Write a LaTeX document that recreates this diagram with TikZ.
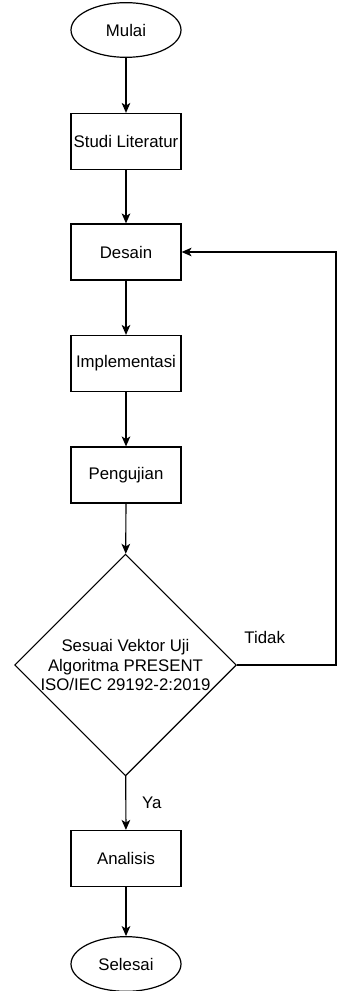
\documentclass[tikz,border=0pt]{standalone}
\usepackage{fontspec}
\setmainfont{Liberation Sans}
\usetikzlibrary{shapes.geometric,arrows.meta}
\begin{document}
\begin{tikzpicture}[x=0.75pt, y=-0.75pt, >={Stealth[length=7.5pt,width=6.5pt,inset=2pt]},
  every node/.style={font=\fontsize{12.6}{14.8}\selectfont},
  terminal/.style={draw, line width=0.9pt, ellipse, minimum width=82.5pt, minimum height=41pt, inner sep=1pt},
  process/.style={draw, line width=0.9pt, rectangle, minimum width=82.5pt, minimum height=42pt, inner sep=1pt},
  decision/.style={draw, line width=0.9pt, diamond, aspect=1, minimum width=164pt, minimum height=165pt, inner sep=0pt, align=center},
  relation/.style={inner sep=1pt}]
\useasboundingbox (0,0) rectangle (336,991);
\node[terminal] (n1) at (126,30) {Mulai};
\node[process] (n2) at (126,141.5) {Studi Literatur};
\node[process] (n3) at (126,252) {Desain};
\node[process] (n4) at (126,363.5) {Implementasi};
\node[process] (n5) at (126,475) {Pengujian};
\node[decision] (n6) at (125.5,665) {Sesuai Vektor Uji\\Algoritma PRESENT\\ISO/IEC 29192-2:2019};
\node[process] (n7) at (126,858.5) {Analisis};
\node[terminal] (n8) at (126,964) {Selesai};
\coordinate (c1) at (336,665);
\coordinate (c2) at (336,252);
\draw[->, line width=0.9pt] (n1) -- (n2);
\draw[->, line width=0.9pt] (n2) -- (n3);
\draw[->, line width=0.9pt] (n3) -- (n4);
\draw[->, line width=0.9pt] (n4) -- (n5);
\draw[->, line width=0.9pt] (n5) -- (n6);
\draw[->, line width=0.9pt] (n6) -- node[relation, xshift=19.5pt] {Ya} (n7);
\draw[->, line width=0.9pt] (n7) -- (n8);
\draw[->, line width=0.9pt] (n6.east) -- node[relation, pos=0.28, yshift=21pt] {Tidak} (c1) -- (c2) -- (n3.east);
\end{tikzpicture}
\end{document}
